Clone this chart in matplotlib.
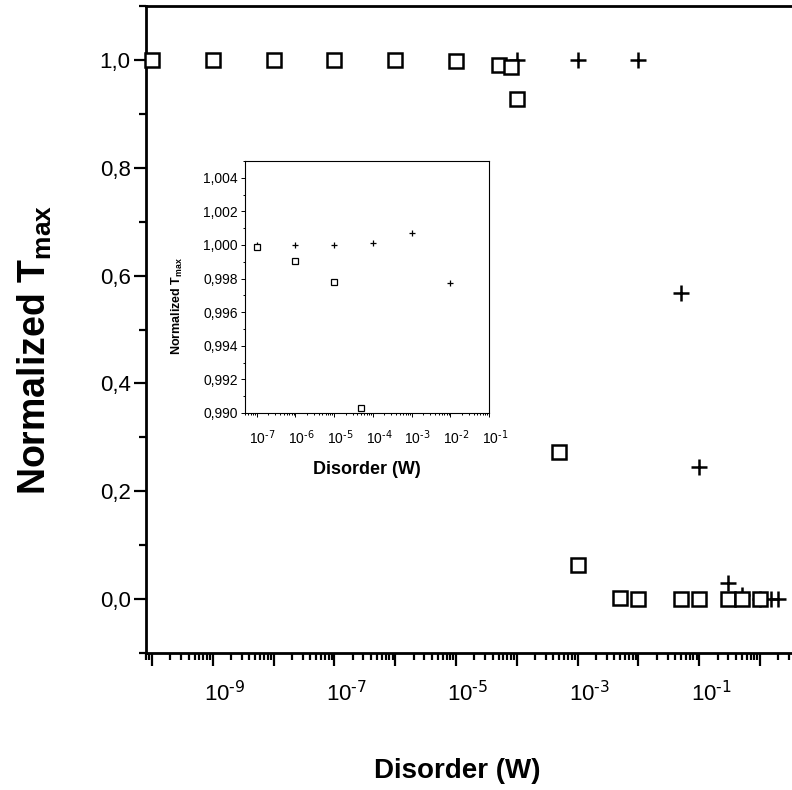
import numpy as np
import matplotlib
matplotlib.use('Agg')
import matplotlib.pyplot as plt
from matplotlib.ticker import FixedLocator, LogLocator, MultipleLocator, NullFormatter
from matplotlib.transforms import ScaledTranslation

plt.rcParams['font.family'] = ['Liberation Sans', 'DejaVu Sans']
plt.rcParams['mathtext.default'] = 'regular'

# main plot data
sq_w = [1e-10, 1e-9, 1e-8, 1e-7, 1e-6, 1e-5, 5e-5, 8e-5, 1e-4, 5e-4, 1e-3,
        5e-3, 1e-2, 5e-2, 1e-1, 3e-1, 5e-1, 1.0]
sq_t = [1.0, 1.0, 1.0, 0.9999, 0.999, 0.998, 0.990, 0.986, 0.927, 0.273, 0.063,
        0.002, 0.0, 0.0, 0.0, 0.0, 0.0, 0.0]
cr_w = [1e-4, 1e-3, 1e-2, 5e-2, 1e-1, 3e-1, 5e-1, 1.0, 1.5, 2.0]
cr_t = [1.0, 1.0, 1.0, 0.568, 0.245, 0.03, 0.008, 0.0, 0.0, 0.0]

# inset data
in_sq_w = [1e-7, 1e-6, 1e-5, 5e-5]
in_sq_t = [0.9999, 0.99904, 0.99778, 0.9903]
in_cr_w = [1e-7, 1e-6, 1e-5, 1e-4, 1e-3, 1e-2]
in_cr_t = [1.0, 1.0, 1.0, 1.0001, 1.0007, 0.99774]

main_yticks = [0.0, 0.2, 0.4, 0.6, 0.8, 1.0]
main_ylabels = ['0,0', '0,2', '0,4', '0,6', '0,8', '1,0']
main_xexp = list(range(-10, 2))
main_xlabels = ['10$^{\\text{%d}}$' % k if (k % 2 and k < 0) else '' for k in main_xexp]

in_yticks = [0.990, 0.992, 0.994, 0.996, 0.998, 1.000, 1.002, 1.004]
in_ylabels = ['0,990', '0,992', '0,994', '0,996', '0,998', '1,000', '1,002', '1,004']
in_xexp = list(range(-7, 0))
in_xlabels = ['10$^{\\text{%d}}$' % k for k in in_xexp]

fig = plt.figure(figsize=(7.92, 7.90), dpi=100)
ax = fig.add_axes([146/792, 137/790, 674.9/792, 647/790])

ax.plot(cr_w, cr_t, '+', color='k', ms=12, mew=1.8, clip_on=False, zorder=3)
ax.plot(sq_w, sq_t, 's', mfc='white', mec='k', ms=10, mew=1.8, clip_on=False, zorder=4)

ax.set_xscale('log')
ax.set_xlim(10**-10.1, 10**1)
ax.set_ylim(-0.1, 1.1)
ax.xaxis.set_major_locator(FixedLocator([10.0**k for k in main_xexp]))
ax.set_xticklabels(main_xlabels)
ax.xaxis.set_minor_locator(LogLocator(base=10, subs=np.arange(2, 10), numticks=40))
ax.xaxis.set_minor_formatter(NullFormatter())
ax.set_yticks(main_yticks)
ax.set_yticklabels(main_ylabels)
ax.yaxis.set_minor_locator(MultipleLocator(0.1))

for s in ax.spines.values():
    s.set_linewidth(2.0)
ax.tick_params(which='both', direction='out', top=False, right=False, width=1.6)
ax.tick_params(which='major', length=9, labelsize=16, pad=2)
ax.tick_params(which='minor', length=5)
ax.tick_params(axis='x', which='major', pad=11)

shift = ScaledTranslation(0.12, 0, fig.dpi_scale_trans)
for lab in ax.get_xticklabels():
    lab.set_transform(lab.get_transform() + shift)

fig.text(35/792, 1 - 350/790, 'Normalized T$_{max}$', rotation=90, fontsize=27,
         fontweight='bold', ha='center', va='center')
fig.text(457/792, 1 - 771/790, 'Disorder (W)', fontsize=20, fontweight='bold',
         ha='center', va='center')

# inset
ins = fig.add_axes([245/792, 377/790, 244/792, 252/790])
ins.plot(in_cr_w, in_cr_t, '+', color='k', ms=5, mew=0.9, zorder=3)
ins.plot(in_sq_w, in_sq_t, 's', mfc='white', mec='k', ms=5, mew=0.9, zorder=4, clip_on=False)
ins.set_xscale('log')
ins.set_xlim(5e-8, 1e-1)
ins.set_ylim(0.990, 1.005)
ins.xaxis.set_major_locator(FixedLocator([10.0**k for k in in_xexp]))
ins.set_xticklabels(in_xlabels)
ins.xaxis.set_minor_locator(LogLocator(base=10, subs=np.arange(2, 10), numticks=40))
ins.xaxis.set_minor_formatter(NullFormatter())
ins.set_yticks(in_yticks)
ins.set_yticklabels(in_ylabels)
ins.yaxis.set_minor_locator(MultipleLocator(0.001))
for s in ins.spines.values():
    s.set_linewidth(0.8)
ins.tick_params(which='both', direction='out', top=False, right=False, width=0.7)
ins.tick_params(which='major', length=3, labelsize=10, pad=2)
ins.tick_params(which='minor', length=1.5)
ins.tick_params(axis='x', which='major', pad=8)
shift2 = ScaledTranslation(0.06, 0, fig.dpi_scale_trans)
for lab in ins.get_xticklabels():
    lab.set_transform(lab.get_transform() + shift2)
ins.set_xlabel('Disorder (W)', fontsize=13, fontweight='bold', labelpad=10)
ins.set_ylabel('Normalized T$_{max}$', fontsize=9, fontweight='bold')
ins.yaxis.set_label_coords(-0.245, 0.425)

fig.savefig('out.png', dpi=100)
